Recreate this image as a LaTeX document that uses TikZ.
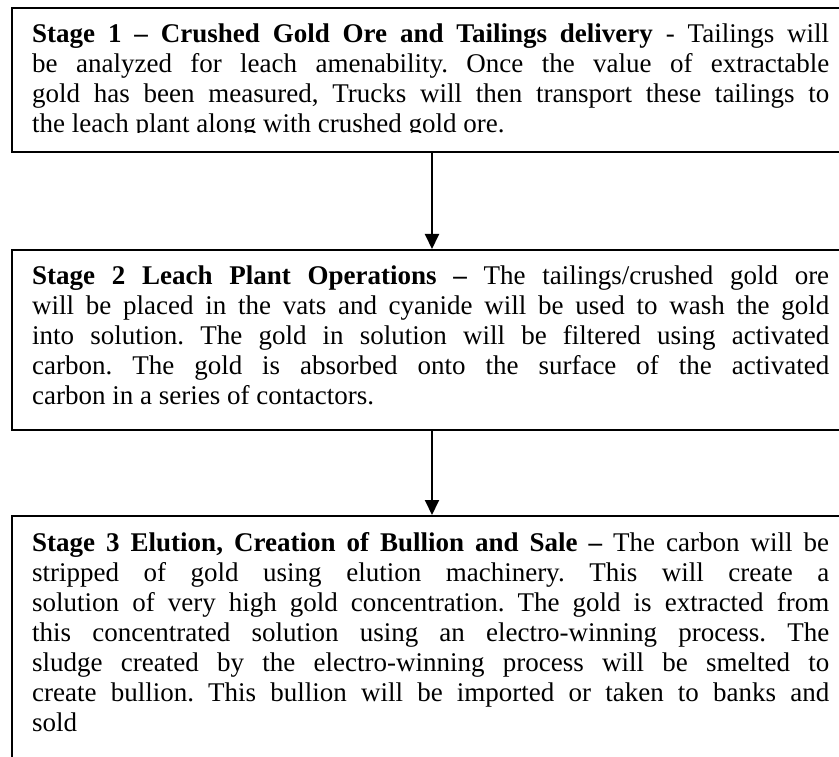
\documentclass[tikz,border=0pt]{standalone}
\usepackage{fontspec}
\setmainfont{Liberation Serif}
\usetikzlibrary{arrows.meta, positioning}
\frenchspacing
\hyphenpenalty=10000

\begin{document}
\begin{tikzpicture}[x=1pt, y=1pt,
    stagebox/.style={rectangle, draw=black, line width=2pt, minimum width=840pt, inner sep=0pt},
    stagetext/.style={text width=797pt, align=justify, inner sep=0pt, anchor=base west,
        font=\fontsize{27}{30}\selectfont},
    arrow/.style={line width=2pt, -{Triangle[length=15pt, width=14pt]}}]

    \useasboundingbox (0,0) rectangle (839,-757);

    \node[stagebox, minimum height=144pt, anchor=north] (stage1) at (432,-7) {};
    \node[stagebox, minimum height=180pt, below=96pt of stage1] (stage2) {};
    \node[stagebox, minimum height=280pt, below=84pt of stage2] (stage3) {};

    % the first box is too small for its text
    \begin{scope}
        \clip (stage1.north west) rectangle ([yshift=20pt]stage1.south east);
        \node[stagetext] (text1) at ([shift={(21pt,-36pt)}]stage1.north west)
            {\textbf{Stage 1 -- Crushed Gold Ore and Tailings delivery} - Tailings will\linebreak
            be analyzed for leach amenability. Once the value of extractable\linebreak
            gold has been measured, Trucks will then transport these tailings to\linebreak
            the leach plant along with crushed gold ore.};
    \end{scope}

    \node[stagetext] (text2) at ([shift={(21pt,-35pt)}]stage2.north west)
        {\textbf{Stage 2 Leach Plant Operations --} The tailings/crushed gold ore\linebreak
        will be placed in the vats and cyanide will be used to wash the gold\linebreak
        into solution. The gold in solution will be filtered using activated\linebreak
        carbon. The gold is absorbed onto the surface of the activated\linebreak
        carbon in a series of contactors.};

    \node[stagetext] (text3) at ([shift={(21pt,-36pt)}]stage3.north west)
        {\textbf{Stage 3 Elution, Creation of Bullion and Sale --} The carbon will be\linebreak
        stripped of gold using elution machinery. This will create a\linebreak
        solution of very high gold concentration. The gold is extracted from\linebreak
        this concentrated solution using an electro-winning process. The\linebreak
        sludge created by the electro-winning process will be smelted to\linebreak
        create bullion. This bullion will be imported or taken to banks and\linebreak
        sold};

    \draw[arrow] (stage1) -- (stage2);
    \draw[arrow] (stage2) -- (stage3);
\end{tikzpicture}
\end{document}
